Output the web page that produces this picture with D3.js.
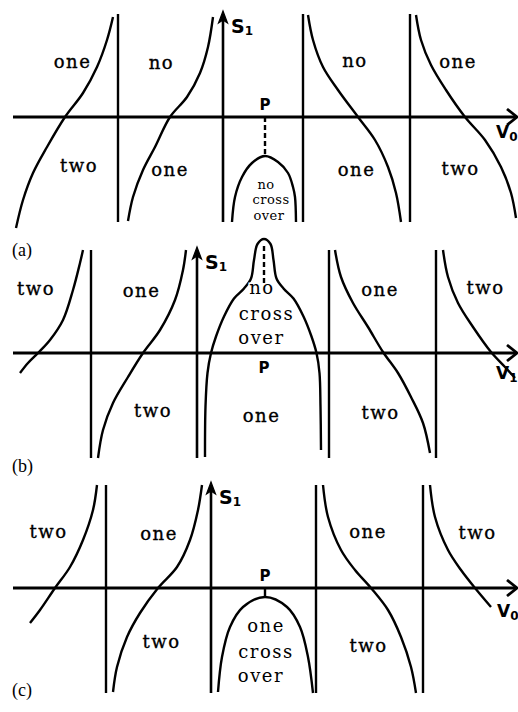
<!DOCTYPE html>
<html>
<head>
<meta charset="utf-8">
<script src="https://cdn.jsdelivr.net/npm/d3@7"></script>
<style>
  html, body { margin: 0; padding: 0; background: #fff; }
  svg { display: block; }
</style>
</head>
<body>
<svg id="chart" width="518" height="712"></svg>
<script>
// V0 runs along the horizontal axis, S1 up the vertical one (arbitrary units).
const V0_DOMAIN = [0, 101];
const S1_DOMAIN = [-21, 21];

// ---------- panel (a) ----------
const aS1Axis = 42;
const aAsymptotes = [21, 58, 79.4];
const aBranches = [
  [[0.6,-22.2],[2,-16.6],[4,-11.2],[6.8,-6],[10.4,0],[14,4.8],[16.8,10],[18.8,15.4],[20,20]],
  [[23,-20.8],[24,-16],[26,-10.6],[28.4,-6],[31.4,0],[34.8,4],[37.4,8.8],[39,14],[40,20]],
  [[59,20.4],[60,15.4],[62,10],[65,5.4],[69,0],[72.4,-4.6],[75,-10],[76.6,-15.2],[77.6,-21]],
  [[80.6,20.4],[81.6,15.4],[83.6,10.4],[86.6,5.4],[90.4,0],[94.4,-4.6],[97.6,-10],[99.6,-15.2],[100.6,-20.2]]
];
const aDome = [[43.8,-21],[44.4,-16],[45.8,-12],[47.8,-9.2],[50.4,-7.8],[53,-9],[55,-11.2],[56,-14],[56.4,-16],[56.6,-21]];
const aPoint = [50.4, 0];
const aMarker = [[50.4, 0], [50.4, -7.8]];
const aRegions = [
  ["one", 11.9, 10.8], ["no", 29.7, 10.6], ["two", 13.2, -9.9], ["one", 31.4, -10.8],
  ["no", 68.4, 11], ["one", 89, 10.9], ["one", 68.7, -10.8], ["two", 89.5, -10.6]
];
const aDomeText = [["no", 50.6, -13.6], ["cross", 51.6, -16.7], ["over", 51.2, -19.8]];

// ---------- panel (b) ----------
const bS1Axis = 36.8;
const bAsymptotes = [15.6, 63.2, 84.6];
const bBranches = [
  [[1.4,-4],[3,-2],[5,0],[7.4,2.6],[10,6.6],[12,12.6],[13.4,18],[14,20.6]],
  [[17,-21],[18,-15.4],[20,-10],[23,-4.8],[26,0],[29.4,4.6],[32.4,10.6],[34,16.6],[34.6,20.6]],
  [[64.4,20.6],[65.6,15.2],[68,10],[71,5.2],[74,0.2],[77,-4],[79.6,-8.8],[82,-14],[83.4,-20]],
  [[86,20.6],[87,15.2],[89,10],[92,5.2],[95.6,0.2],[98.4,-2.8],[100.4,-5]]
];
const bDome = [
  [38.4,-20.8],[38.5,-10.7],[38.9,-4],[39.6,0],[40.6,3.3],[42.2,7.3],[44.2,10.9],[46.2,12.9],
  [47.6,14.9],[48.2,18.6],[48.9,21.8],[50.2,22.8],[51.5,21.8],[52.1,18.6],[52.7,14.9],[54.1,12.9],
  [56.1,10.9],[58.1,7.3],[59.7,3.3],[60.7,0],[61.3,-4],[61.5,-10.7],[61.6,-19.4]
];
const bPoint = [50.2, 0];
const bMarker = [[50.2, 21.4], [50.2, 12.4]];
const bRegions = [
  ["two", 4.6, 12.6], ["one", 25.7, 12.2], ["two", 28, -11.7], ["one", 49.7, -12.7],
  ["one", 73.4, 12.4], ["two", 94.5, 12.9], ["two", 73.5, -12.1]
];
const bDomeText = [["no", 49.8, 12.8], ["cross", 50.7, 7.6], ["over", 49.7, 2.8]];

// ---------- panel (c) ----------
const cS1Axis = 39.6;
const cAsymptotes = [18.6, 60.6, 82];
const cBranches = [
  [[3.4,-7],[5.4,-4.4],[8.4,0],[11.4,4.2],[14,9.6],[16,15.6],[16.8,20.6]],
  [[20,-20.8],[20.8,-15.8],[22.8,-9.8],[25.4,-5],[29,0],[32.8,4.2],[35.4,9.6],[37,15.6],[37.8,20.6]],
  [[62,20.6],[63,14.2],[65.6,7.6],[68.4,3.6],[71.6,0],[75,-4.4],[77.6,-9.8],[79.6,-15.8],[80.6,-21]],
  [[83.4,20.6],[84.4,14.2],[87,7.6],[89.6,3.6],[92.4,0],[95.6,-3.8]]
];
const cDome = [[41,-20.8],[41.8,-13.8],[43.4,-7.8],[46,-3.8],[50.4,-1.8],[54.8,-3.8],[57.4,-7.8],[59,-13.8],[60,-21]];
const cPoint = [50.4, 0];
const cMarker = [[50.4, 0], [50.4, -1.8]];
const cRegions = [
  ["two", 7.1, 11.1], ["one", 29.2, 10.6], ["two", 29.7, -11], ["one", 71, 11],
  ["two", 92.9, 10.8], ["two", 71.1, -11.7]
];
const cDomeText = [["one", 50.6, -7.7], ["cross", 50.6, -12.9], ["over", 49.6, -17.7]];

// Panel layout: where each V0 axis sits and how it is decorated.
const panels = [
  { tag: "(a)", tagY: 256, axisY: 117, s1: aS1Axis, asym: aAsymptotes, branches: aBranches,
    dome: aDome, point: aPoint, marker: aMarker, dashed: true, pBelow: false, regions: aRegions,
    domeText: aDomeText, domeFont: 13, domeSpacing: 0.5, vX: 96.6, vY: -3, vSub: "0" },
  { tag: "(b)", tagY: 472, axisY: 353, s1: bS1Axis, asym: bAsymptotes, branches: bBranches,
    dome: bDome, point: bPoint, marker: bMarker, dashed: true, pBelow: true, regions: bRegions,
    domeText: bDomeText, domeFont: 18, domeSpacing: 1.5, vX: 96.6, vY: -4, vSub: "1" },
  { tag: "(c)", tagY: 696, axisY: 588, s1: cS1Axis, asym: cAsymptotes, branches: cBranches,
    dome: cDome, point: cPoint, marker: cMarker, dashed: false, pBelow: false, regions: cRegions,
    domeText: cDomeText, domeFont: 18, domeSpacing: 1.5, vX: 96.8, vY: -4.6, vSub: "0" }
];

const svg = d3.select("#chart");
const ink = "#000";
const x = d3.scaleLinear().domain(V0_DOMAIN).range([13, 518]);
const TYPE = "'DejaVu Serif', 'Liberation Serif', serif";
const SANS = "'DejaVu Sans', 'Liberation Sans', Arial, sans-serif";
const SERIF = "'Liberation Serif', 'Times New Roman', serif";

panels.forEach(p => {
  const y = d3.scaleLinear().domain(S1_DOMAIN).range([p.axisY + 105, p.axisY - 105]);
  const g = svg.append("g");
  const line = d3.line().x(d => x(d[0])).y(d => y(d[1])).curve(d3.curveCatmullRom.alpha(0.5));
  const xEnd = x(V0_DOMAIN[1]);

  // vertical asymptotes
  g.selectAll("line.asym").data(p.asym).join("line")
    .attr("x1", d => x(d)).attr("x2", d => x(d))
    .attr("y1", y(-21)).attr("y2", y(20.6))
    .attr("stroke", ink).attr("stroke-width", 2.4);

  // V0 axis with open arrowhead
  g.append("line")
    .attr("x1", x(0)).attr("x2", xEnd - 1)
    .attr("y1", y(0)).attr("y2", y(0))
    .attr("stroke", ink).attr("stroke-width", 2.8);
  g.append("path")
    .attr("d", `M${xEnd - 11},${y(0) - 8} L${xEnd - 1},${y(0)} L${xEnd - 11},${y(0) + 8}`)
    .attr("fill", "none").attr("stroke", ink).attr("stroke-width", 2.8);

  // S1 axis with arrowhead
  g.append("line")
    .attr("x1", x(p.s1)).attr("x2", x(p.s1))
    .attr("y1", y(-21)).attr("y2", y(20.4))
    .attr("stroke", ink).attr("stroke-width", 2.6);
  g.append("path")
    .attr("d", `M${x(p.s1)},${y(21) - 1} L${x(p.s1) - 4.5},${y(21) + 11} L${x(p.s1)},${y(21) + 8} L${x(p.s1) + 4.5},${y(21) + 11} Z`)
    .attr("fill", ink).attr("stroke", ink).attr("stroke-width", 1.2);

  // boundary branches
  g.selectAll("path.branch").data(p.branches).join("path")
    .attr("d", line)
    .attr("fill", "none").attr("stroke", ink).attr("stroke-width", 2.4);

  // central dome
  g.append("path").datum(p.dome)
    .attr("d", line)
    .attr("fill", "none").attr("stroke", ink).attr("stroke-width", 2.4);

  // marker from P to the dome
  g.append("path").datum(p.marker)
    .attr("d", d3.line().x(d => x(d[0])).y(d => y(d[1])))
    .attr("stroke", ink).attr("stroke-width", 2.4)
    .attr("stroke-dasharray", p.dashed ? "5,3" : null);

  // region labels
  g.selectAll("text.region").data(p.regions).join("text")
    .attr("x", d => x(d[1])).attr("y", d => y(d[2]))
    .attr("dy", "0.3em")
    .attr("text-anchor", "middle")
    .attr("font-family", TYPE).attr("font-size", 18).attr("letter-spacing", 1.5)
    .attr("fill", ink).attr("stroke", ink).attr("stroke-width", 0.35)
    .text(d => d[0]);

  // dome caption
  g.selectAll("text.dome").data(p.domeText).join("text")
    .attr("x", d => x(d[1])).attr("y", d => y(d[2]))
    .attr("dy", "0.3em")
    .attr("text-anchor", "middle")
    .attr("font-family", TYPE).attr("font-size", p.domeFont).attr("letter-spacing", p.domeSpacing)
    .attr("fill", ink).attr("stroke", "#fff").attr("stroke-width", 3)
    .attr("paint-order", "stroke")
    .text(d => d[0]);

  // P label
  g.append("text")
    .attr("x", x(p.point[0])).attr("y", p.pBelow ? y(p.point[1]) + 20 : y(p.point[1]) - 7)
    .attr("text-anchor", "middle")
    .attr("font-family", SANS).attr("font-weight", "bold").attr("font-size", 15)
    .attr("fill", ink)
    .text("P");

  // S1 axis title
  const s1t = g.append("text")
    .attr("x", x(p.s1) + 8).attr("y", y(21) + 21)
    .attr("font-family", SANS).attr("font-weight", "bold").attr("font-size", 19)
    .attr("fill", ink);
  s1t.append("tspan").text("S");
  s1t.append("tspan").attr("font-size", 12).attr("dy", 2).text("1");

  // V0 axis title
  const vt = g.append("text")
    .attr("x", x(p.vX)).attr("y", y(p.vY))
    .attr("dy", "0.35em")
    .attr("font-family", SANS).attr("font-weight", "bold").attr("font-size", 17)
    .attr("fill", ink);
  vt.append("tspan").text("V");
  vt.append("tspan").attr("font-size", 12).attr("dy", 3).text(p.vSub);

  // panel tag
  g.append("text")
    .attr("x", 12).attr("y", p.tagY)
    .attr("font-family", SERIF).attr("font-size", 18)
    .attr("fill", ink)
    .text(p.tag);
});
</script>
</body>
</html>
